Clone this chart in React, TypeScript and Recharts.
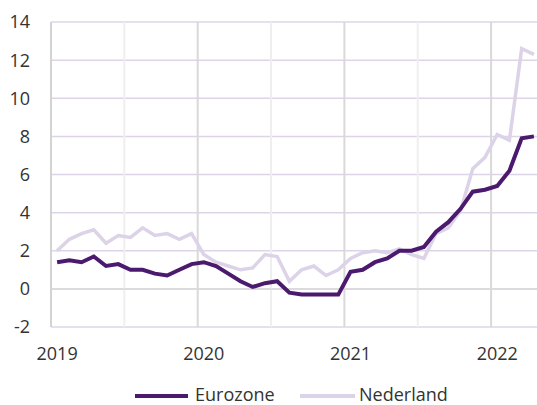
import React from "react";
import { LineChart, Line, XAxis, YAxis, CartesianGrid, ReferenceLine } from "recharts";

// monthly inflation (%), Jan 2019 - Apr 2022
const months = [
    "2019-01", "2019-02", "2019-03", "2019-04", "2019-05", "2019-06", "2019-07", "2019-08", "2019-09", "2019-10", "2019-11", "2019-12",
    "2020-01", "2020-02", "2020-03", "2020-04", "2020-05", "2020-06", "2020-07", "2020-08", "2020-09", "2020-10", "2020-11", "2020-12",
    "2021-01", "2021-02", "2021-03", "2021-04", "2021-05", "2021-06", "2021-07", "2021-08", "2021-09", "2021-10", "2021-11", "2021-12",
    "2022-01", "2022-02", "2022-03", "2022-04",
];

const eurozone = [
    1.4, 1.5, 1.4, 1.7, 1.2, 1.3, 1.0, 1.0, 0.8, 0.7, 1.0, 1.3,
    1.4, 1.2, 0.8, 0.4, 0.1, 0.3, 0.4, -0.2, -0.3, -0.3, -0.3, -0.3,
    0.9, 1.0, 1.4, 1.6, 2.0, 2.0, 2.2, 3.0, 3.5, 4.2, 5.1, 5.2,
    5.4, 6.2, 7.9, 8.0,
];

const nederland = [
    2.0, 2.6, 2.9, 3.1, 2.4, 2.8, 2.7, 3.2, 2.8, 2.9, 2.6, 2.9,
    1.8, 1.4, 1.2, 1.0, 1.1, 1.8, 1.7, 0.4, 1.0, 1.2, 0.7, 1.0,
    1.6, 1.9, 2.0, 1.9, 2.1, 1.8, 1.6, 2.9, 3.2, 4.1, 6.3, 6.9,
    8.1, 7.8, 12.6, 12.3,
];

const yearLabels = ["2019", "2020", "2021", "2022"];
const yTicks = [-2, 0, 2, 4, 6, 8, 10, 12, 14];
const seriesNames = ["Eurozone", "Nederland"];

const EZ_COLOR = "#4b1a6e";
const NL_COLOR = "#dcd3e8";
const FONT = "'Open Sans', sans-serif";

const data = months.map((m, i) => ({
    idx: i,
    month: m,
    eurozone: eurozone[i],
    nederland: nederland[i],
}));

const yearTicks = yearLabels.map((_, k) => k * 12);
// half-year boundaries between categories
const halfYears = [5.5, 11.5, 17.5, 23.5, 29.5, 35.5];

const legendText: React.CSSProperties = {
    position: "absolute",
    top: 385,
    fontFamily: FONT,
    fontSize: 18,
    lineHeight: "18px",
    color: "#333",
    whiteSpace: "nowrap",
};

export default function App() {
    return (
        <div style={{ position: "absolute", left: 0, top: 0, width: 537, height: 405, overflow: "hidden", background: "#fff" }}>
            <LineChart
                width={545}
                height={405}
                data={data}
                margin={{ top: 22, right: 5, left: 0, bottom: 38 }}
            >
                <CartesianGrid vertical={false} stroke="#ddd4e8" strokeWidth={1.5} />
                {halfYears.map((x, k) => (
                    <ReferenceLine
                        key={x}
                        x={x}
                        stroke={k % 2 === 1 ? "#d9d9d9" : "#efefef"}
                        strokeWidth={2}
                    />
                ))}
                <ReferenceLine y={0} stroke="#d9d9d9" strokeWidth={1.5} />
                <XAxis
                    dataKey="idx"
                    type="number"
                    domain={[-0.5, months.length - 0.5]}
                    ticks={yearTicks}
                    tickFormatter={(v) => yearLabels[Math.round(v / 12)]}
                    axisLine={false}
                    tickLine={false}
                    tickSize={0}
                    tickMargin={20}
                    height={40}
                    tick={{ fill: "#333", fontSize: 18, fontFamily: FONT }}
                    interval={0}
                />
                <YAxis
                    domain={[-2, 14]}
                    ticks={yTicks}
                    width={51}
                    axisLine={{ stroke: "#d3d3d3", strokeWidth: 2 }}
                    tickLine={false}
                    tickSize={0}
                    tickMargin={21}
                    tick={{ fill: "#333", fontSize: 18, fontFamily: FONT }}
                    interval={0}
                />
                <Line
                    type="linear"
                    dataKey="nederland"
                    name={seriesNames[1]}
                    stroke={NL_COLOR}
                    strokeWidth={3.5}
                    dot={false}
                    isAnimationActive={false}
                />
                <Line
                    type="linear"
                    dataKey="eurozone"
                    name={seriesNames[0]}
                    stroke={EZ_COLOR}
                    strokeWidth={4}
                    dot={false}
                    isAnimationActive={false}
                />
            </LineChart>
            <div style={{ position: "absolute", left: 135, top: 394, width: 53, height: 4, background: EZ_COLOR }} />
            <div style={{ ...legendText, left: 195 }}>{seriesNames[0]}</div>
            <div style={{ position: "absolute", left: 300, top: 394, width: 55, height: 4, background: NL_COLOR }} />
            <div style={{ ...legendText, left: 359 }}>{seriesNames[1]}</div>
        </div>
    );
}
